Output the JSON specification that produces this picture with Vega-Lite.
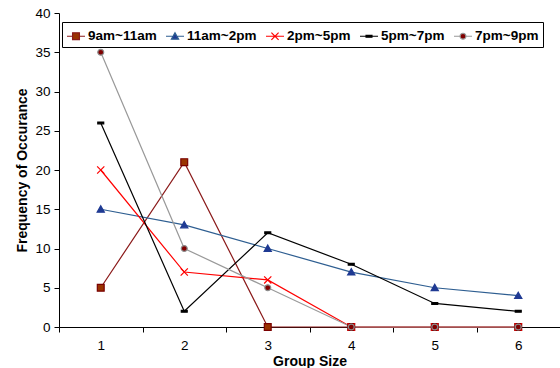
{
  "$schema": "https://vega.github.io/schema/vega-lite/v6.json",
  "width": 501,
  "height": 314,
  "autosize": {"type": "none"},
  "padding": {"left": 59, "top": 13, "right": 0, "bottom": 41},
  "background": "white",
  "config": {"view": {"stroke": null}},
  "data": {
    "values": [
      {"series": "9am~11am", "size": 1, "freq": 5},
      {"series": "9am~11am", "size": 2, "freq": 21},
      {"series": "9am~11am", "size": 3, "freq": 0},
      {"series": "9am~11am", "size": 4, "freq": 0},
      {"series": "9am~11am", "size": 5, "freq": 0},
      {"series": "9am~11am", "size": 6, "freq": 0},
      {"series": "11am~2pm", "size": 1, "freq": 15},
      {"series": "11am~2pm", "size": 2, "freq": 13},
      {"series": "11am~2pm", "size": 3, "freq": 10},
      {"series": "11am~2pm", "size": 4, "freq": 7},
      {"series": "11am~2pm", "size": 5, "freq": 5},
      {"series": "11am~2pm", "size": 6, "freq": 4},
      {"series": "2pm~5pm", "size": 1, "freq": 20},
      {"series": "2pm~5pm", "size": 2, "freq": 7},
      {"series": "2pm~5pm", "size": 3, "freq": 6},
      {"series": "2pm~5pm", "size": 4, "freq": 0},
      {"series": "2pm~5pm", "size": 5, "freq": 0},
      {"series": "2pm~5pm", "size": 6, "freq": 0},
      {"series": "5pm~7pm", "size": 1, "freq": 26},
      {"series": "5pm~7pm", "size": 2, "freq": 2},
      {"series": "5pm~7pm", "size": 3, "freq": 12},
      {"series": "5pm~7pm", "size": 4, "freq": 8},
      {"series": "5pm~7pm", "size": 5, "freq": 3},
      {"series": "5pm~7pm", "size": 6, "freq": 2},
      {"series": "7pm~9pm", "size": 1, "freq": 35},
      {"series": "7pm~9pm", "size": 2, "freq": 10},
      {"series": "7pm~9pm", "size": 3, "freq": 5},
      {"series": "7pm~9pm", "size": 4, "freq": 0},
      {"series": "7pm~9pm", "size": 5, "freq": 0},
      {"series": "7pm~9pm", "size": 6, "freq": 0}
    ]
  },
  "encoding": {
    "x": {
      "field": "size",
      "type": "ordinal",
      "scale": {"type": "band", "paddingInner": 0, "paddingOuter": 0},
      "axis": {
        "title": "Group Size",
        "tickBand": "extent",
        "labelAngle": 0,
        "labelFont": "Liberation Sans",
        "labelFontSize": 13.5,
        "labelColor": "black",
        "labelPadding": 6,
        "tickSize": 5,
        "tickColor": "black",
        "domainColor": "black",
        "titleFont": "Liberation Sans",
        "titleFontSize": 14,
        "titleFontWeight": "bold",
        "titleColor": "black",
        "titlePadding": 3,
        "grid": false
      }
    },
    "y": {
      "field": "freq",
      "type": "quantitative",
      "scale": {"domain": [0, 40], "nice": false},
      "axis": {
        "title": "Frequency of Occurance",
        "values": [0, 5, 10, 15, 20, 25, 30, 35, 40],
        "labelFont": "Liberation Sans",
        "labelFontSize": 13.5,
        "labelColor": "black",
        "labelPadding": 4,
        "tickSize": 5,
        "tickColor": "black",
        "domainColor": "black",
        "titleFont": "Liberation Sans",
        "titleFontSize": 14,
        "titleFontWeight": "bold",
        "titleColor": "black",
        "titlePadding": 5,
        "grid": false
      }
    }
  },
  "layer": [
    {
      "mark": {"type": "line", "strokeWidth": 1.2},
      "encoding": {
        "stroke": {
          "field": "series",
          "type": "nominal",
          "scale": {
            "domain": ["9am~11am", "11am~2pm", "2pm~5pm", "5pm~7pm", "7pm~9pm"],
            "range": ["#8B1A1A", "#2E5E91", "#FF0000", "#000000", "#999999"]
          },
          "legend": null
        }
      }
    },
    {
      "mark": {"type": "point", "filled": true, "opacity": 1, "size": 324, "strokeWidth": 1.2},
      "encoding": {
        "shape": {
          "field": "series",
          "type": "nominal",
          "scale": {
            "domain": ["9am~11am", "11am~2pm", "2pm~5pm", "5pm~7pm", "7pm~9pm"],
            "range": [
              "M-0.38,-0.38H0.38V0.38H-0.38Z",
              "M0,-0.38L0.4,0.32H-0.4Z",
              "M-0.4,-0.4L0.4,0.4M-0.4,0.4L0.4,-0.4",
              "M-0.33,-0.1H0.33V0.1H-0.33Z",
              "M-0.33,0A0.33,0.33 0 1,0 0.33,0A0.33,0.33 0 1,0 -0.33,0Z"
            ]
          },
          "legend": null
        },
        "fill": {
          "field": "series",
          "type": "nominal",
          "scale": {
            "domain": ["9am~11am", "11am~2pm", "2pm~5pm", "5pm~7pm", "7pm~9pm"],
            "range": ["#993300", "#1F3A93", "#FF0000", "#000000", "#800000"]
          },
          "legend": null
        },
        "stroke": {
          "field": "series",
          "type": "nominal",
          "scale": {
            "domain": ["9am~11am", "11am~2pm", "2pm~5pm", "5pm~7pm", "7pm~9pm"],
            "range": ["#7A0000", "#1F3A93", "#FF0000", "#000000", "#8C8C8C"]
          },
          "legend": null
        }
      }
    },
    {
      "transform": [{"filter": "datum.freq < 0"}],
      "mark": {"type": "point", "filled": false, "opacity": 1, "size": 324, "strokeWidth": 1.2},
      "encoding": {
        "shape": {
          "field": "series",
          "type": "nominal",
          "scale": {
            "domain": ["9am~11am", "11am~2pm", "2pm~5pm", "5pm~7pm", "7pm~9pm"],
            "range": [
              "M-1,0H-0.38M0.38,0H1M-0.38,-0.38H0.38V0.38H-0.38Z",
              "M-1,0H-0.3M0.3,0H1M0,-0.38L0.4,0.32H-0.4Z",
              "M-1,0H1M-0.4,-0.4L0.4,0.4M-0.4,0.4L0.4,-0.4",
              "M-1,0H1M-0.33,-0.1H0.33V0.1H-0.33Z",
              "M-1,0H-0.33M0.33,0H1M-0.33,0A0.33,0.33 0 1,0 0.33,0A0.33,0.33 0 1,0 -0.33,0Z"
            ]
          },
          "legend": {
            "orient": "none",
            "legendX": 3,
            "legendY": 9,
            "direction": "horizontal",
            "title": null,
            "symbolSize": 324,
            "symbolStrokeWidth": 1.2,
            "labelFont": "Liberation Sans",
            "labelFontSize": 13.5,
            "labelFontWeight": "bold",
            "labelColor": "black",
            "labelOffset": 2,
            "columnPadding": 6,
            "padding": 4,
            "fillColor": "white",
            "strokeColor": "black"
          }
        },
        "color": {
          "field": "series",
          "type": "nominal",
          "scale": {
            "domain": ["9am~11am", "11am~2pm", "2pm~5pm", "5pm~7pm", "7pm~9pm"],
            "range": ["#8B1A1A", "#2E5E91", "#FF0000", "#000000", "#999999"]
          },
          "legend": {
            "orient": "none",
            "legendX": 3,
            "legendY": 9,
            "direction": "horizontal",
            "title": null,
            "symbolSize": 324,
            "symbolStrokeWidth": 1.2,
            "labelFont": "Liberation Sans",
            "labelFontSize": 13.5,
            "labelFontWeight": "bold",
            "labelColor": "black",
            "labelOffset": 2,
            "columnPadding": 6,
            "padding": 4,
            "fillColor": "white",
            "strokeColor": "black"
          }
        },
        "fill": {
          "field": "series",
          "type": "nominal",
          "scale": {
            "domain": ["9am~11am", "11am~2pm", "2pm~5pm", "5pm~7pm", "7pm~9pm"],
            "range": ["#993300", "#1F3A93", "#FF0000", "#000000", "#800000"]
          },
          "legend": {
            "orient": "none",
            "legendX": 3,
            "legendY": 9,
            "direction": "horizontal",
            "title": null,
            "symbolSize": 324,
            "symbolStrokeWidth": 1.2,
            "labelFont": "Liberation Sans",
            "labelFontSize": 13.5,
            "labelFontWeight": "bold",
            "labelColor": "black",
            "labelOffset": 2,
            "columnPadding": 6,
            "padding": 4,
            "fillColor": "white",
            "strokeColor": "black"
          }
        }
      }
    }
  ],
  "resolve": {"scale": {"stroke": "independent", "shape": "independent", "fill": "independent", "color": "independent"}}
}
